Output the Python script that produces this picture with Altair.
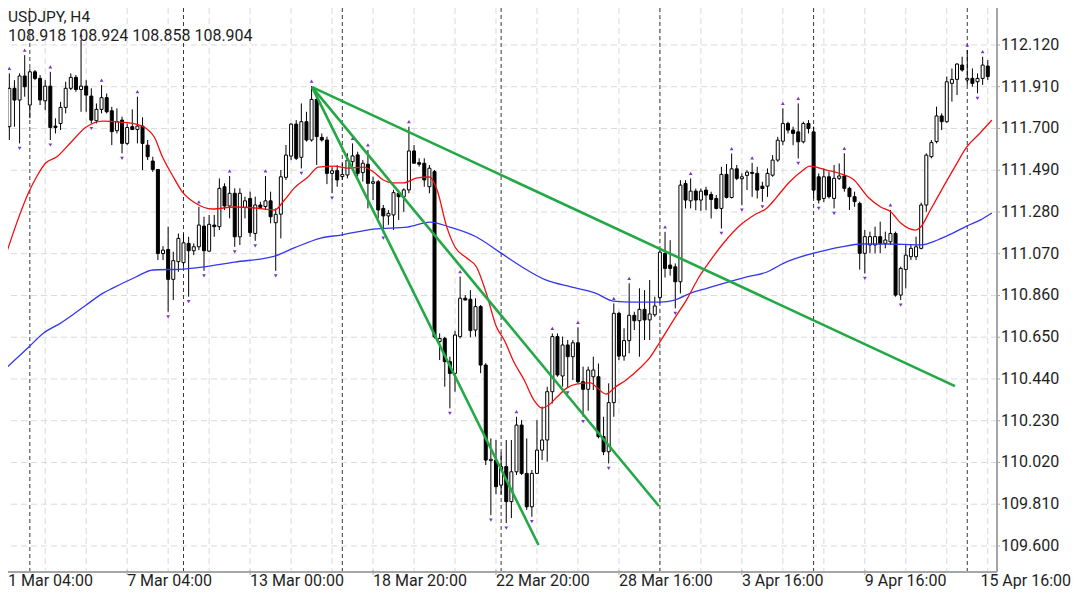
import altair as alt
import pandas as pd

# ---------------- data ----------------
opens = [111.642, 111.709, 111.902, 111.843, 111.964, 111.818, 111.985, 111.952, 111.839, 111.913,
         111.712, 111.725, 111.806, 111.902, 111.957, 111.896, 111.913, 111.863, 111.739, 111.796,
         111.855, 111.789, 111.689, 111.742, 111.625, 111.709, 111.695, 111.712, 111.616, 111.536,
         111.494, 111.071, 111.091, 110.941, 111.030, 111.025, 111.122, 111.085, 111.105, 111.209,
         111.083, 111.214, 111.206, 111.407, 111.310, 111.374, 111.155, 111.303, 111.348, 111.172,
         111.315, 111.307, 111.336, 111.226, 111.269, 111.454, 111.561, 111.722, 111.555, 111.734,
         111.642, 111.846, 111.655, 111.642, 111.474, 111.488, 111.458, 111.466, 111.533, 111.567,
         111.478, 111.520, 111.424, 111.432, 111.298, 111.260, 111.265, 111.374, 111.357, 111.391,
         111.587, 111.528, 111.525, 111.407, 111.483, 110.628, 110.644, 110.527, 110.468, 110.653,
         110.846, 110.841, 110.686, 110.804, 110.510, 110.029, 110.032, 109.906, 109.999, 109.823,
         109.973, 110.208, 109.965, 109.797, 109.965, 110.082, 110.133, 110.376, 110.653, 110.455,
         110.611, 110.552, 110.622, 110.426, 110.388, 110.451, 110.451, 110.150, 110.074, 110.321,
         110.770, 110.555, 110.633, 110.760, 110.733, 110.790, 110.737, 110.763, 110.850, 111.071,
         111.013, 111.004, 110.929, 111.423, 111.336, 111.385, 111.340, 111.390, 111.368, 111.348,
         111.298, 111.469, 111.353, 111.497, 111.447, 111.464, 111.479, 111.474, 111.410, 111.410,
         111.465, 111.541, 111.636, 111.725, 111.692, 111.683, 111.633, 111.725, 111.683, 111.457,
         111.348, 111.457, 111.348, 111.449, 111.461, 111.399, 111.357, 111.323, 111.072, 111.114,
         111.114, 111.156, 111.122, 111.130, 111.172, 110.862, 110.991, 111.055, 111.055, 111.097,
         111.315, 111.558, 111.634, 111.763, 111.734, 111.927, 111.947, 112.019, 111.944, 111.952,
         111.935, 111.952, 112.014]
highs = [111.902, 111.977, 111.943, 111.977, 112.069, 112.002, 111.994, 111.969, 111.943, 111.985,
         111.751, 111.834, 111.935, 111.977, 111.969, 112.145, 111.943, 111.902, 111.826, 111.918,
         111.876, 111.809, 111.801, 111.759, 111.725, 111.796, 111.860, 111.756, 111.642, 111.558,
         111.494, 111.108, 111.206, 111.080, 111.172, 111.172, 111.155, 111.122, 111.306, 111.256,
         111.265, 111.265, 111.449, 111.424, 111.461, 111.399, 111.399, 111.357, 111.382, 111.357,
         111.332, 111.461, 111.382, 111.298, 111.491, 111.617, 111.726, 111.742, 111.826, 111.784,
         111.913, 111.870, 111.675, 111.659, 111.508, 111.516, 111.525, 111.575, 111.625, 111.583,
         111.541, 111.592, 111.458, 111.441, 111.315, 111.290, 111.391, 111.391, 111.399, 111.709,
         111.617, 111.550, 111.550, 111.516, 111.491, 110.669, 110.652, 110.552, 110.682, 110.955,
         110.862, 110.887, 110.846, 110.812, 110.519, 110.141, 110.133, 110.070, 110.133, 110.133,
         110.250, 110.233, 110.141, 109.982, 110.233, 110.301, 110.401, 110.669, 110.669, 110.653,
         110.636, 110.636, 110.700, 110.502, 110.502, 110.552, 110.518, 110.250, 110.418, 110.820,
         110.778, 110.695, 110.921, 110.778, 110.896, 110.887, 110.938, 110.854, 111.090, 111.180,
         111.138, 111.021, 111.440, 111.440, 111.449, 111.398, 111.398, 111.407, 111.382, 111.365,
         111.507, 111.521, 111.574, 111.516, 111.474, 111.490, 111.527, 111.507, 111.432, 111.499,
         111.566, 111.658, 111.801, 111.734, 111.709, 111.826, 111.734, 111.742, 111.709, 111.474,
         111.499, 111.483, 111.516, 111.524, 111.575, 111.407, 111.382, 111.332, 111.189, 111.181,
         111.206, 111.231, 111.181, 111.290, 111.181, 111.005, 111.114, 111.114, 111.156, 111.327,
         111.575, 111.642, 111.810, 111.776, 111.961, 112.002, 112.028, 112.061, 112.095, 112.002,
         111.977, 112.061, 112.044]
lows = [111.633, 111.642, 111.709, 111.625, 111.860, 111.751, 111.943, 111.818, 111.793, 111.642,
        111.675, 111.692, 111.776, 111.893, 111.885, 111.784, 111.784, 111.725, 111.725, 111.776,
        111.776, 111.616, 111.675, 111.575, 111.616, 111.692, 111.625, 111.491, 111.541, 111.482,
        111.038, 111.038, 110.778, 110.837, 110.979, 111.004, 110.854, 111.063, 111.088, 110.984,
        111.080, 111.155, 111.189, 111.290, 111.248, 111.105, 111.114, 111.248, 111.155, 111.135,
        111.303, 111.290, 111.223, 110.984, 111.147, 111.441, 111.541, 111.541, 111.499, 111.634,
        111.634, 111.516, 111.634, 111.420, 111.375, 111.407, 111.441, 111.449, 111.500, 111.458,
        111.433, 111.298, 111.340, 111.248, 111.173, 111.215, 111.189, 111.240, 111.281, 111.374,
        111.550, 111.508, 111.407, 111.374, 110.644, 110.535, 110.401, 110.292, 110.376, 110.644,
        110.837, 110.649, 110.653, 110.469, 110.007, 109.755, 109.860, 109.860, 109.715, 109.740,
        109.957, 109.957, 109.781, 109.747, 109.965, 110.032, 110.024, 110.317, 110.451, 110.401,
        110.395, 110.435, 110.418, 110.250, 110.280, 110.384, 110.141, 110.057, 110.015, 110.250,
        110.535, 110.532, 110.569, 110.686, 110.552, 110.636, 110.636, 110.753, 110.820, 110.950,
        110.960, 110.795, 110.870, 111.298, 111.298, 111.289, 111.286, 111.289, 111.247, 111.293,
        111.197, 111.348, 111.348, 111.440, 111.314, 111.390, 111.356, 111.348, 111.331, 111.356,
        111.457, 111.532, 111.616, 111.675, 111.616, 111.549, 111.625, 111.675, 111.348, 111.323,
        111.330, 111.348, 111.298, 111.441, 111.382, 111.290, 111.306, 110.990, 110.971, 111.072,
        111.072, 111.072, 111.097, 111.114, 110.854, 110.837, 110.896, 111.038, 111.038, 111.092,
        111.281, 111.550, 111.625, 111.692, 111.729, 111.835, 111.868, 111.986, 111.919, 111.910,
        111.877, 111.919, 111.944]
closes = [111.709, 111.902, 111.843, 111.964, 111.910, 111.985, 111.952, 111.843, 111.913, 111.705,
          111.705, 111.806, 111.902, 111.957, 111.896, 111.913, 111.868, 111.742, 111.796, 111.855,
          111.784, 111.684, 111.734, 111.625, 111.705, 111.695, 111.712, 111.625, 111.558, 111.494,
          111.071, 111.088, 110.941, 111.035, 111.147, 111.125, 111.085, 111.105, 111.214, 111.085,
          111.218, 111.206, 111.399, 111.310, 111.374, 111.155, 111.374, 111.336, 111.176, 111.315,
          111.303, 111.336, 111.256, 111.268, 111.457, 111.566, 111.722, 111.550, 111.734, 111.642,
          111.846, 111.659, 111.642, 111.474, 111.487, 111.441, 111.469, 111.541, 111.562, 111.474,
          111.525, 111.424, 111.432, 111.290, 111.260, 111.273, 111.377, 111.357, 111.391, 111.587,
          111.525, 111.520, 111.441, 111.500, 110.652, 110.644, 110.527, 110.468, 110.661, 110.846,
          110.837, 110.683, 110.804, 110.510, 110.032, 110.036, 109.898, 109.999, 109.823, 109.973,
          110.208, 109.965, 109.797, 109.965, 110.082, 110.133, 110.376, 110.653, 110.460, 110.611,
          110.552, 110.622, 110.426, 110.388, 110.485, 110.485, 110.150, 110.074, 110.321, 110.770,
          110.555, 110.633, 110.760, 110.733, 110.790, 110.737, 110.767, 110.807, 111.078, 110.996,
          110.996, 110.929, 111.415, 111.340, 111.385, 111.340, 111.385, 111.365, 111.343, 111.298,
          111.469, 111.353, 111.497, 111.449, 111.457, 111.480, 111.474, 111.390, 111.398, 111.474,
          111.541, 111.641, 111.725, 111.692, 111.675, 111.633, 111.725, 111.700, 111.390, 111.340,
          111.457, 111.357, 111.449, 111.461, 111.399, 111.357, 111.332, 111.072, 111.156, 111.156,
          111.156, 111.122, 111.139, 111.172, 110.862, 110.996, 111.063, 111.097, 111.105, 111.315,
          111.566, 111.629, 111.763, 111.734, 111.935, 111.947, 112.024, 111.994, 111.952, 111.927,
          111.952, 112.019, 111.961]

up_fractals = [1, 4, 9, 15, 19, 26, 38, 44, 51, 60, 68, 71, 79, 89, 100, 107, 112, 119, 122,
               129, 134, 142, 146, 152, 155, 164, 173, 188, 191]
down_fractals = [3, 9, 17, 23, 32, 36, 39, 45, 49, 53, 58, 64, 74, 87, 95, 98, 103, 110, 113,
                 118, 131, 140, 144, 148, 155, 159, 162, 168, 175, 190]

red_ma_bar = [0, 2.5, 4.8, 6.3, 8.1, 10.2, 12.9, 16.0, 19.3, 22.6, 25.7, 27.6, 29.3, 30.9, 32.8,
              34.8, 37.3, 40.6, 45.0, 48.9, 52.8, 54.7, 56.6, 59.3, 61.3, 64.4, 67.1, 70.2, 72.1,
              74.0, 76.0, 77.9, 80.6, 83.1, 84.5, 86.4, 88.0, 90.3, 92.2, 94.1, 96.1, 97.6, 99.6,
              101.5, 103.4, 105.0, 106.3, 107.9, 109.8, 111.7, 114.5, 115.6, 117.5, 119.3, 121.4,
              124.1, 126.1, 128.0, 130.9, 133.4, 135.3, 137.9, 140.6, 143.7, 146.4, 148.9, 150.8,
              153.3, 156.0, 157.2, 158.5, 160.5, 162.8, 165.9, 168.6, 171.1, 173.1, 175.0, 177.9,
              178.9, 180.8, 183.3, 186.0, 187.9, 190.5, 192.8]
red_ma = [111.038, 111.229, 111.380, 111.456, 111.526, 111.556, 111.627, 111.707, 111.737, 111.732,
          111.722, 111.702, 111.657, 111.556, 111.466, 111.380, 111.325, 111.295, 111.305, 111.300,
          111.290, 111.340, 111.400, 111.456, 111.506, 111.511, 111.501, 111.506, 111.481, 111.441,
          111.426, 111.426, 111.451, 111.456, 111.390, 111.204, 111.104, 111.048, 111.003, 110.872,
          110.701, 110.636, 110.520, 110.435, 110.334, 110.294, 110.309, 110.349, 110.394, 110.414,
          110.420, 110.399, 110.364, 110.399, 110.435, 110.495, 110.550, 110.626, 110.746, 110.847,
          110.938, 111.038, 111.129, 111.214, 111.265, 111.300, 111.355, 111.431, 111.491, 111.511,
          111.506, 111.491, 111.476, 111.441, 111.355, 111.305, 111.280, 111.224, 111.189, 111.204,
          111.290, 111.405, 111.526, 111.607, 111.677, 111.742]

blue_ma_bar = [0, 4.8, 7.7, 11.0, 16.0, 19.3, 21.2, 25.7, 29.0, 34.8, 38.6, 45.0, 52.8, 56.6, 61.8,
               65.7, 72.1, 78.7, 83.1, 87.0, 92.2, 96.7, 101.1, 105.7, 110.8, 115.4, 118.9, 122.8,
               128.0, 130.9, 134.0, 137.3, 140.6, 145.0, 148.9, 152.2, 155.3, 158.0, 160.5, 163.4,
               167.3, 172.5, 178.9, 182.2, 185.2, 187.9, 190.5, 192.8]
blue_ma = [110.485, 110.601, 110.671, 110.721, 110.812, 110.872, 110.897, 110.953, 110.988, 110.993,
           111.003, 111.028, 111.058, 111.099, 111.149, 111.164, 111.194, 111.204, 111.229, 111.204,
           111.154, 111.078, 111.003, 110.938, 110.902, 110.872, 110.832, 110.827, 110.827, 110.837,
           110.872, 110.897, 110.922, 110.953, 110.978, 111.023, 111.053, 111.073, 111.088, 111.104,
           111.119, 111.119, 111.114, 111.139, 111.174, 111.209, 111.239, 111.275]

trend_start_bar = [60.1, 60.1, 60.1]
trend_start_price = [111.908, 111.908, 111.908]
trend_end_bar = [185.6, 127.8, 104.3]
trend_end_price = [110.404, 109.801, 109.605]

week_separators = [5, 35, 66, 97, 128, 158, 188]
grid_bars = [8, 16, 24, 32, 40, 48, 56, 64, 72, 80, 88, 96, 104, 112, 120, 128, 136, 144, 152,
             160, 168, 176, 184, 192]
tick_bars = [0, 24, 48, 72, 96, 120, 144, 168, 192]
tick_labels = ["1 Mar 04:00", "7 Mar 04:00", "13 Mar 00:00", "18 Mar 20:00", "22 Mar 20:00",
               "28 Mar 16:00", "3 Apr 16:00", "9 Apr 16:00", "15 Apr 16:00"]
price_ticks = [109.600, 109.810, 110.020, 110.230, 110.440, 110.650, 110.860, 111.070,
               111.280, 111.490, 111.700, 111.910, 112.120]
header_title = "USDJPY, H4"
header_values = "108.918 108.924 108.858 108.904"

# ---------------- tables ----------------
candles = pd.DataFrame({"bar": list(range(len(opens))), "open": opens, "high": highs,
                        "low": lows, "close": closes})
ups = candles[candles["bar"].isin(up_fractals)]
downs = candles[candles["bar"].isin(down_fractals)]
red_df = pd.DataFrame({"bar": red_ma_bar, "price": red_ma})
blue_df = pd.DataFrame({"bar": blue_ma_bar, "price": blue_ma})
trend_df = pd.DataFrame({"b0": trend_start_bar, "p0": trend_start_price,
                         "b1": trend_end_bar, "p1": trend_end_price})
sep_df = pd.DataFrame({"bar": week_separators})
grid_df = pd.DataFrame({"bar": grid_bars})
ticks_df = pd.DataFrame({"bar": tick_bars, "label": tick_labels})
mid_ticks = ticks_df.iloc[1:-1]
first_tick = ticks_df.iloc[:1]
last_tick = ticks_df.iloc[-1:]
price_df = pd.DataFrame({"price": price_ticks,
                         "label": [f"{p:.3f}" for p in price_ticks]})

W, H = 989, 564
PAD_R, PAD_B = 75, 17
FONT = "Roboto"
TXT = "#1e1e1e"
AXIS = "#a6a6a6"
GRID = "#dadada"
xs = alt.Scale(domain=[1.714, 192.826], nice=False, zero=False)
ys = alt.Scale(domain=[109.469, 112.306], nice=False, zero=False)
X = alt.X("bar:Q", scale=xs, axis=None)
Yp = alt.Y("price:Q", scale=ys, axis=None)

hgrid = alt.Chart(price_df).mark_rule(color=GRID, strokeDash=[6, 4], strokeWidth=1).encode(y=Yp)
vgrid = alt.Chart(grid_df).mark_rule(color=GRID, strokeDash=[6, 4], strokeWidth=1).encode(x=X)
seps = alt.Chart(sep_df).mark_rule(color="#3a3a3a", strokeDash=[4, 3], strokeWidth=1).encode(x=X)

right_axis = alt.Chart(price_df).mark_rule(color=AXIS, strokeWidth=1.5).encode(
    x=alt.value(W), y=alt.value(0), y2=alt.value(H))
bottom_axis = alt.Chart(price_df).mark_rule(color=AXIS, strokeWidth=1.5).encode(
    y=alt.value(H), x=alt.value(0), x2=alt.value(W))
y_ticks = alt.Chart(price_df).mark_rule(color=AXIS, strokeWidth=1).encode(
    y=Yp, x=alt.value(W), x2=alt.value(W + 3))
y_labels = alt.Chart(price_df).mark_text(align="left", baseline="middle", font=FONT, fontSize=16,
                                         color=TXT, dx=4).encode(
    y=Yp, x=alt.value(W), text="label:N")
x_ticks = alt.Chart(mid_ticks).mark_rule(color=AXIS, strokeWidth=1).encode(
    x=X, y=alt.value(H - 2), y2=alt.value(H + 3))

wicks = alt.Chart(candles).mark_rule(color="black", strokeWidth=1, clip=True).encode(
    x=X, y=alt.Y("low:Q", scale=ys, axis=None), y2="high:Q")
bodies = alt.Chart(candles).mark_bar(size=3, stroke="black", strokeWidth=1, clip=True).encode(
    x=X, y=alt.Y("open:Q", scale=ys, axis=None), y2="close:Q",
    fill=alt.condition("datum.close >= datum.open", alt.value("white"), alt.value("black")))

blue_line = alt.Chart(blue_df).mark_line(color="#3535f2", strokeWidth=1.3, interpolate="monotone",
                                         clip=True).encode(x=X, y=Yp)
red_line = alt.Chart(red_df).mark_line(color="#f20f0f", strokeWidth=1.3, interpolate="monotone",
                                       clip=True).encode(x=X, y=Yp)

up_pts = alt.Chart(ups).mark_point(shape="triangle-up", filled=True, size=14, color="#7b35cc",
                                   opacity=1, yOffset=-5, clip=True).encode(
    x=X, y=alt.Y("high:Q", scale=ys, axis=None))
down_pts = alt.Chart(downs).mark_point(shape="triangle-down", filled=True, size=14, color="#7b35cc",
                                       opacity=1, yOffset=5, clip=True).encode(
    x=X, y=alt.Y("low:Q", scale=ys, axis=None))

trends = alt.Chart(trend_df).mark_rule(color="#22a845", strokeWidth=2.6, clip=True).encode(
    x=alt.X("b0:Q", scale=xs, axis=None), y=alt.Y("p0:Q", scale=ys, axis=None),
    x2="b1:Q", y2="p1:Q")

LABEL_Y = H + 14
x_labels = alt.Chart(mid_ticks).mark_text(align="left", baseline="alphabetic", font=FONT,
                                          fontSize=16, color=TXT).encode(
    x=X, y=alt.value(LABEL_Y), text="label:N")
x_label_first = alt.Chart(first_tick).mark_text(align="left", baseline="alphabetic", font=FONT,
                                                fontSize=16, color=TXT).encode(
    x=alt.value(0), y=alt.value(LABEL_Y), text="label:N")
x_label_last = alt.Chart(last_tick).mark_text(align="right", baseline="alphabetic", font=FONT,
                                              fontSize=16, color=TXT).encode(
    x=alt.value(W + PAD_R - 1), y=alt.value(LABEL_Y), text="label:N")

title1 = alt.Chart(pd.DataFrame({"t": [header_title]})).mark_text(
    align="left", baseline="alphabetic", font=FONT, fontSize=15.5, color=TXT).encode(
    x=alt.value(0), y=alt.value(14), text="t:N")
title2 = alt.Chart(pd.DataFrame({"t": [header_values]})).mark_text(
    align="left", baseline="alphabetic", font=FONT, fontSize=16, color=TXT).encode(
    x=alt.value(0), y=alt.value(33), text="t:N")

chart = alt.layer(hgrid, vgrid, seps, right_axis, bottom_axis, y_ticks, x_ticks, wicks, bodies,
                  blue_line, red_line, up_pts, down_pts, trends, y_labels, x_labels,
                  x_label_first, x_label_last, title1, title2).properties(
    width=W, height=H, autosize=alt.AutoSizeParams(type="none"),
    padding={"left": 0, "top": 0, "right": PAD_R, "bottom": PAD_B}, background="white"
).configure_view(stroke=None)

chart.save("out.html", embed_options={"renderer": "svg", "actions": False})
